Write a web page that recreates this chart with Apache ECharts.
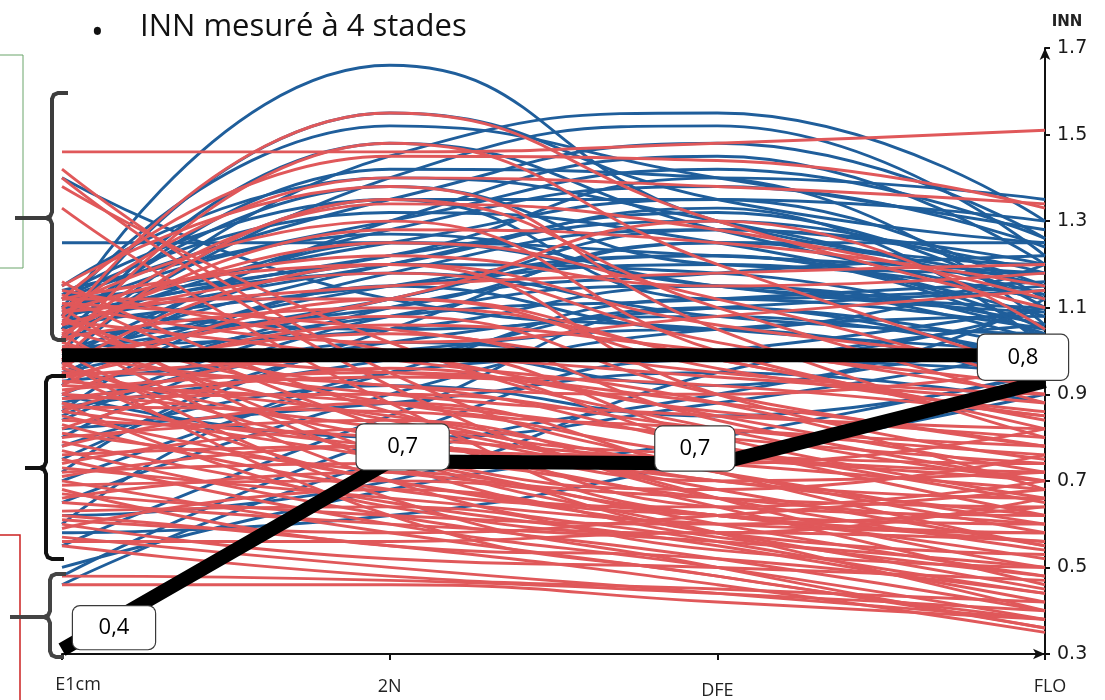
<!DOCTYPE html>
<html>
<head>
<meta charset="utf-8">
<script src="https://cdn.jsdelivr.net/npm/echarts@6/dist/echarts.min.js"></script>
<style>html,body{margin:0;padding:0;background:#fff}#c{width:1105px;height:700px}</style>
</head>
<body>
<div id="c"></div>
<script>
// ---- Data ----
const stages = ['E1cm', '2N', 'DFE', 'FLO'];
const yTicks = [0.3, 0.5, 0.7, 0.9, 1.1, 1.3, 1.5, 1.7];

// INN of each plot at the 4 stages (blue group)
const blueLines = [
  [1.08, 1.66, 1.30, 1.20], [1.05, 1.55, 1.35, 1.25], [1.10, 1.52, 1.40, 1.28],
  [1.40, 1.12, 1.05, 1.00], [1.25, 1.25, 1.22, 1.18], [1.00, 1.45, 1.55, 1.30],
  [1.02, 1.40, 1.52, 1.22], [1.12, 1.35, 1.48, 1.26], [0.98, 1.30, 1.45, 1.20],
  [1.05, 1.28, 1.38, 1.24], [1.10, 1.25, 1.35, 1.12], [1.08, 1.22, 1.30, 1.15],
  [1.00, 1.20, 1.32, 1.10], [0.95, 1.18, 1.28, 1.18], [1.12, 1.32, 1.25, 1.08],
  [1.06, 1.15, 1.20, 1.12], [0.90, 1.12, 1.22, 1.05], [0.85, 1.10, 1.18, 1.22],
  [1.15, 1.40, 1.30, 1.13], [1.03, 1.42, 1.40, 1.06], [0.92, 1.25, 1.15, 1.10],
  [0.80, 1.08, 1.15, 1.02], [0.75, 1.05, 1.25, 1.15], [0.70, 0.95, 1.12, 1.05],
  [0.65, 0.90, 1.05, 1.08], [0.55, 0.85, 1.10, 1.00], [0.48, 0.80, 0.98, 0.95],
  [0.46, 0.75, 0.90, 1.02], [0.60, 0.95, 1.00, 1.10], [0.88, 1.02, 1.08, 0.98],
  [0.95, 1.08, 1.12, 1.16], [1.00, 1.12, 1.28, 1.20], [1.08, 1.18, 1.08, 1.04],
  [1.10, 1.05, 1.10, 1.14], [0.93, 1.00, 1.05, 0.92], [0.82, 0.88, 0.95, 0.88],
  [0.78, 0.92, 0.85, 0.95], [0.90, 0.80, 0.88, 1.00], [1.14, 1.30, 1.42, 1.26],
  [1.06, 1.38, 1.20, 1.18], [1.02, 1.48, 1.28, 1.12], [0.97, 1.35, 1.35, 1.30],
  [1.12, 1.22, 1.40, 1.35], [1.04, 1.10, 1.25, 1.25], [0.86, 1.15, 1.05, 1.20],
  [0.72, 1.00, 0.92, 1.12], [0.62, 0.70, 0.95, 1.06], [0.50, 0.68, 0.80, 0.95],
  [0.94, 1.20, 1.18, 1.04], [1.09, 1.27, 1.15, 1.09], [1.01, 1.05, 1.15, 1.06],
  [0.99, 1.15, 1.22, 1.03], [1.13, 1.35, 1.12, 1.15], [0.87, 0.98, 1.10, 0.96],
  [1.07, 1.20, 1.33, 1.01], [0.58, 0.62, 0.75, 0.90], [0.84, 1.02, 0.98, 1.10]
];

// INN of each plot at the 4 stages (red group)
const redLines = [
  [1.46, 1.46, 1.48, 1.51], [1.42, 0.95, 0.72, 0.55], [1.40, 0.92, 0.66, 0.50],
  [1.38, 1.02, 0.82, 0.70], [1.33, 0.88, 0.62, 0.58], [1.06, 1.55, 1.30, 1.10],
  [1.00, 1.48, 1.20, 0.95], [1.12, 1.45, 1.44, 1.33], [1.08, 1.40, 1.38, 1.34],
  [1.15, 1.38, 1.05, 0.80], [1.10, 1.30, 1.00, 0.85], [1.04, 1.25, 1.12, 0.92],
  [1.12, 1.20, 0.90, 0.75], [1.02, 1.28, 1.25, 1.15], [1.09, 1.15, 1.18, 1.20],
  [0.98, 1.35, 1.10, 0.88], [1.14, 1.00, 0.85, 0.72], [1.07, 0.98, 0.88, 0.68],
  [1.11, 1.05, 0.95, 0.90], [1.03, 1.10, 0.98, 0.82], [0.97, 1.08, 0.90, 0.78],
  [0.95, 0.92, 0.78, 0.65], [0.93, 0.85, 0.72, 0.60], [0.96, 0.80, 0.70, 0.62],
  [0.92, 0.88, 0.80, 0.74], [0.90, 0.82, 0.68, 0.55], [0.88, 0.78, 0.75, 0.70],
  [0.86, 0.75, 0.60, 0.48], [0.85, 0.70, 0.58, 0.45], [0.83, 0.68, 0.62, 0.52],
  [0.81, 0.72, 0.66, 0.64], [0.79, 0.65, 0.55, 0.42], [0.77, 0.62, 0.52, 0.40],
  [0.75, 0.60, 0.50, 0.38], [0.73, 0.66, 0.60, 0.58], [0.70, 0.58, 0.48, 0.36],
  [0.68, 0.55, 0.52, 0.44], [0.65, 0.60, 0.56, 0.50], [0.62, 0.55, 0.46, 0.35],
  [0.60, 0.52, 0.50, 0.47], [0.57, 0.50, 0.44, 0.38], [0.55, 0.48, 0.45, 0.42],
  [0.48, 0.47, 0.44, 0.40], [0.46, 0.46, 0.42, 0.38], [0.99, 0.90, 0.85, 0.82],
  [1.01, 0.95, 0.92, 0.85], [1.05, 0.88, 0.82, 0.78], [0.94, 0.98, 0.94, 0.88],
  [0.91, 0.95, 0.86, 0.80], [0.89, 0.90, 0.82, 0.76], [0.87, 0.86, 0.76, 0.72],
  [0.84, 0.80, 0.74, 0.68], [0.80, 0.84, 0.70, 0.66], [0.76, 0.78, 0.64, 0.62],
  [0.72, 0.74, 0.66, 0.60], [0.69, 0.70, 0.62, 0.56], [0.66, 0.72, 0.58, 0.53],
  [0.63, 0.64, 0.54, 0.50], [0.59, 0.68, 0.57, 0.48], [1.13, 0.82, 0.64, 0.46],
  [1.08, 0.76, 0.58, 0.40], [1.04, 0.70, 0.56, 0.44], [1.00, 0.66, 0.50, 0.36],
  [0.98, 0.62, 0.48, 0.38], [1.10, 0.74, 0.62, 0.60], [1.12, 1.12, 0.96, 0.86],
  [1.06, 1.18, 1.02, 0.90], [0.94, 1.04, 0.84, 0.70], [0.92, 1.12, 0.98, 0.84],
  [0.89, 0.94, 0.88, 0.78], [0.86, 1.00, 0.80, 0.66], [0.82, 0.96, 0.78, 0.62],
  [0.78, 0.88, 0.72, 0.58], [0.74, 0.82, 0.66, 0.54], [0.71, 0.78, 0.70, 0.72],
  [0.67, 0.62, 0.60, 0.64], [0.61, 0.58, 0.62, 0.68], [0.56, 0.56, 0.58, 0.56],
  [1.16, 0.86, 0.76, 0.74], [1.02, 0.84, 0.74, 0.82], [0.97, 0.76, 0.68, 0.76],
  [0.95, 0.70, 0.64, 0.70], [0.88, 0.64, 0.58, 0.66], [1.09, 1.22, 1.15, 1.18],
  [1.11, 1.02, 1.08, 1.14], [1.07, 0.92, 0.90, 0.96], [0.99, 1.12, 1.30, 1.05],
  [1.03, 1.34, 1.28, 1.12], [0.96, 1.20, 1.06, 0.98], [0.90, 1.06, 1.00, 0.92]
];

// black annotation lines
const thresholdLine = [0.99, 0.99, 0.99, 0.99];
const shareLine = [0.31, 0.745, 0.74, 0.93];
const shareLabels = ['0,4', '0,7', '0,7', '0,8'];

// ---- Chart ----
const BLUE = '#1f5e9b';
const RED = '#e0585a';
const series = [];
blueLines.forEach((d, i) => series.push({
  type: 'line', name: 'b' + i, data: d, smooth: true, showSymbol: false, silent: true,
  lineStyle: { color: BLUE, width: 2.9 }, z: 2
}));
redLines.forEach((d, i) => series.push({
  type: 'line', name: 'r' + i, data: d, smooth: true, showSymbol: false, silent: true,
  lineStyle: { color: RED, width: 2.9 }, z: 3
}));
series.push({
  type: 'line', data: thresholdLine, showSymbol: false, silent: true,
  lineStyle: { color: '#000', width: 14, cap: 'butt' }, z: 5
});
series.push({
  type: 'line', data: shareLine, showSymbol: false, silent: true,
  lineStyle: { color: '#000', width: 14, cap: 'butt', join: 'miter' }, z: 5
});
const boxSpec = [
  { off: [52, -22], w: 82, h: 43 },
  { off: [13, -14.5], w: 92, h: 45 },
  { off: [-22.5, -15], w: 79, h: 44 },
  { off: [-22, -24], w: 90, h: 45 }
];
series.push({
  type: 'scatter', symbolSize: 1, silent: true, z: 10,
  itemStyle: { opacity: 0 },
  data: shareLine.map((v, i) => ({
    value: [i, v],
    label: {
      show: true, position: 'inside', offset: boxSpec[i].off,
      formatter: shareLabels[i], opacity: 1,
      width: boxSpec[i].w, height: boxSpec[i].h, lineHeight: boxSpec[i].h,
      align: 'center', verticalAlign: 'middle',
      backgroundColor: '#ffffff', borderColor: '#3a3a3a', borderWidth: 1.2, borderRadius: 7,
      color: '#000', fontSize: 22, fontFamily: 'Open Sans'
    }
  }))
});

function brace(x, y0, yMid, y1, hookX, nubX, color) {
  const r = 6;
  return [
    { type: 'polyline', z: 20, shape: { points: [[hookX, y0], [x + r, y0], [x + 1.8, y0 + 1.8], [x, y0 + r], [x, yMid - r], [x - 1.8, yMid - 1.8], [x - r, yMid], [nubX, yMid]] }, style: { stroke: color, lineWidth: 4, fill: null } },
    { type: 'polyline', z: 20, shape: { points: [[x - r, yMid], [x - 1.8, yMid + 1.8], [x, yMid + r], [x, y1 - r], [x + 1.8, y1 - 1.8], [x + r, y1], [hookX - 2, y1]] }, style: { stroke: color, lineWidth: 4, fill: null } }
  ];
}

const lbl = { fontSize: 18, fontFamily: 'Open Sans', color: '#222' };
const chart = echarts.init(document.getElementById('c'), null, { renderer: 'canvas' });
chart.setOption({
  animation: false,
  backgroundColor: '#fff',
  grid: { left: 62, right: 60, top: 48, bottom: 45 },
  xAxis: {
    type: 'category', data: stages, boundaryGap: false,
    axisLine: { lineStyle: { color: '#111', width: 2 }, symbol: ['none', 'arrow'], symbolSize: [8, 12] },
    axisTick: { show: true, length: 6, lineStyle: { color: '#111', width: 2 } },
    axisLabel: {
      margin: 22, color: '#222', fontSize: 18, fontFamily: 'Open Sans',
      formatter: v => v === 'E1cm' ? '{a|' + v + '}' : v === 'DFE' ? '{b|' + v + '}' : v === 'FLO' ? '{d|' + v + '}' : '{c|' + v + '}',
      rich: {
        a: Object.assign({ padding: [0, 0, 0, 32] }, lbl),
        b: Object.assign({ padding: [6, 0, 0, 0] }, lbl),
        c: Object.assign({ padding: [2, 0, 0, 0] }, lbl),
        d: Object.assign({ padding: [2, 0, 0, 10] }, lbl)
      }
    },
    splitLine: { show: false }
  },
  yAxis: {
    type: 'value', position: 'right', min: 0.3, max: 1.7, interval: 0.2,
    name: 'INN', nameLocation: 'end', nameGap: 18,
    nameTextStyle: { fontWeight: 'bold', fontSize: 15, color: '#222', fontFamily: 'DejaVu Sans', padding: [0, 0, 0, 44] },
    axisLine: { show: true, lineStyle: { color: '#111', width: 2 }, symbol: ['none', 'arrow'], symbolSize: [8, 12] },
    axisTick: { show: true, length: 5, lineStyle: { color: '#111', width: 2 } },
    axisLabel: {
      margin: 12, color: '#1a1a1a', fontSize: 19, fontFamily: 'DejaVu Sans',
      formatter: v => yTicks.includes(+v.toFixed(1)) ? v.toFixed(1) : ''
    },
    splitLine: { show: false }
  },
  graphic: [
    { type: 'text', x: 91, y: 17, style: { text: '•', fontSize: 34, fill: '#111', fontFamily: 'Open Sans' } },
    { type: 'text', x: 140, y: 12, style: { text: 'INN mesuré à 4 stades', fontSize: 31, fill: '#111', fontFamily: 'Open Sans' } },
    { type: 'polyline', shape: { points: [[0, 55], [23, 55], [23, 268], [0, 268]] }, style: { stroke: '#6aa56a', lineWidth: 1, fill: null } },
    { type: 'polyline', shape: { points: [[0, 535], [20, 535], [20, 700]] }, style: { stroke: '#cc2222', lineWidth: 1.5, fill: null } }
  ].concat(
    brace(52, 93, 218, 340, 68, 15, '#3d3d3d'),
    brace(46, 376, 468, 559, 66, 25, '#111'),
    brace(50, 574, 617, 657, 66, 10, '#444')
  ),
  series: series
});
</script>
</body>
</html>
